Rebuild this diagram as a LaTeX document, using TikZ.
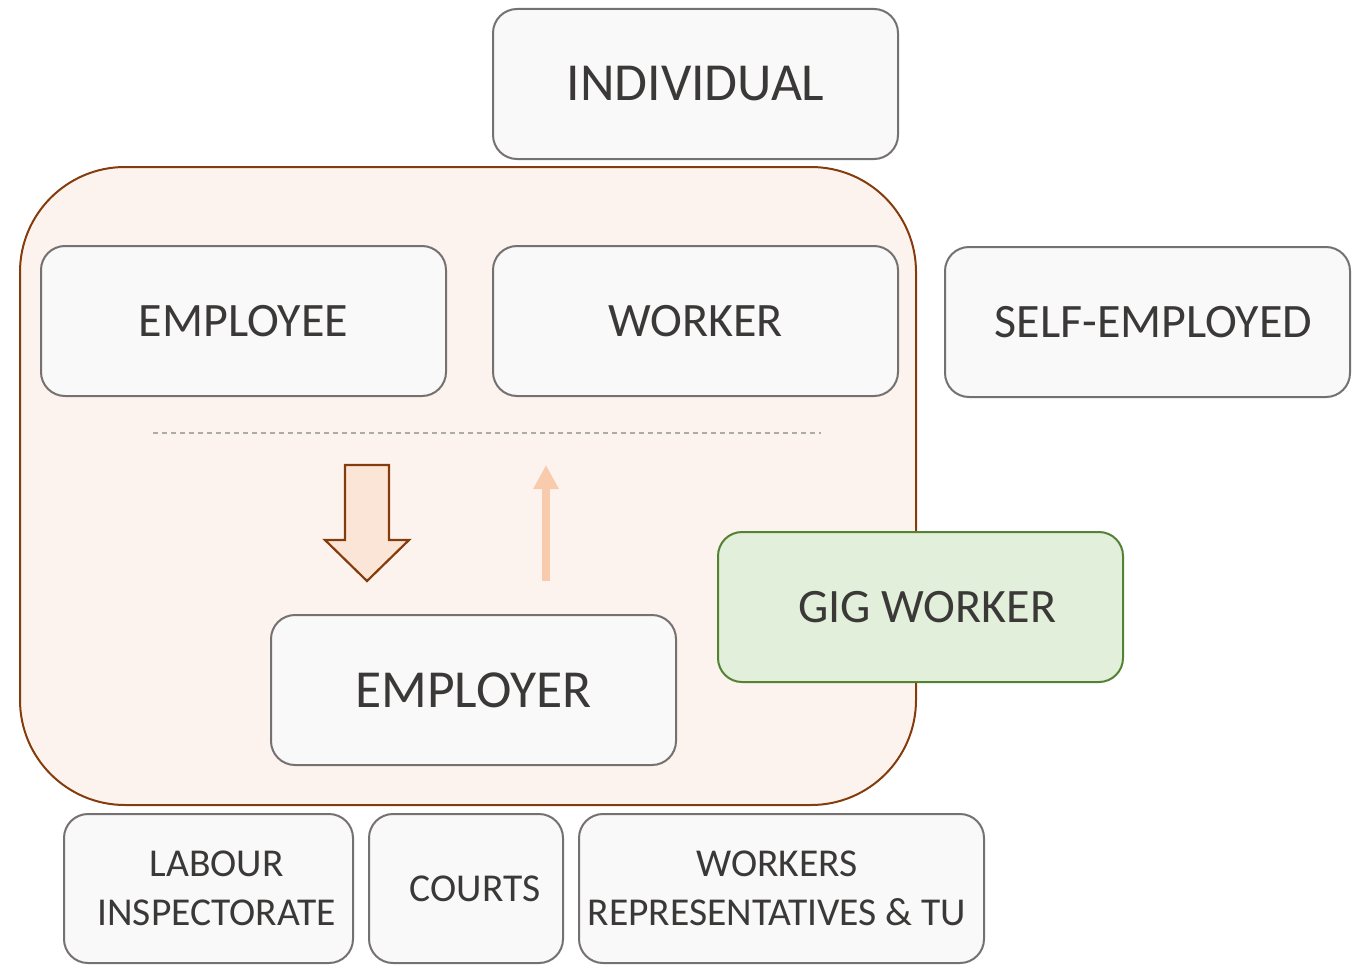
\documentclass[tikz,border=0pt]{standalone}
\usepackage{fontspec}
\setmainfont{Carlito}
\usetikzlibrary{arrows.meta}
\definecolor{boxfill}{HTML}{F9F9F9}
\definecolor{boxline}{HTML}{767171}
\definecolor{textgray}{HTML}{3B3838}
\definecolor{zonefill}{HTML}{FDF3EE}
\definecolor{zoneline}{HTML}{843C0C}
\definecolor{arrowfill}{HTML}{FBE5D6}
\definecolor{softarrow}{HTML}{F8CBAD}
\definecolor{gigfill}{HTML}{E2EFDA}
\definecolor{gigline}{HTML}{548235}
% nudge a line of text sideways inside its box
\newcommand{\nudge}[1]{\hspace*{#1}}
\begin{document}
\begin{tikzpicture}[x=1pt,y=-1pt,
  rolebox/.style={draw=boxline, fill=boxfill, line width=2pt, rounded corners=24pt,
    minimum width=405pt, minimum height=150pt, text=textgray, inner sep=0pt,
    font=\fontsize{48}{58}\selectfont},
  bigtext/.style={font=\fontsize{53.5}{64}\selectfont},
  bodybox/.style={draw=boxline, fill=boxfill, line width=2pt, rounded corners=24pt,
    minimum height=149pt, text=textgray, inner sep=0pt, align=center,
    font=\fontsize{39.5}{48.5}\selectfont}]
  \useasboundingbox (0,0) rectangle (1359,974);
  % employment relationship zone
  \draw[draw=zoneline, fill=zonefill, line width=2pt, rounded corners=105pt]
    (20,167) rectangle (916,805);
  % status boxes
  \node[rolebox, bigtext] (individual) at (695.5,84) {INDIVIDUAL};
  \node[rolebox] (employee) at (243.5,321) {EMPLOYEE};
  \node[rolebox] (worker) at (695.5,321) {WORKER};
  \node[rolebox] (selfemp) at (1147.5,322) {\nudge{12pt}SELF-EMPLOYED};
  % separator
  \coordinate (sepL) at (153,433);
  \coordinate (sepR) at (821,433);
  \draw[boxline!60, line width=1.2pt, dash pattern=on 5pt off 4pt] (sepL) -- (sepR);
  % block arrow pointing down
  \draw[draw=zoneline, fill=arrowfill, line width=2.2pt]
    (345,465) -- (389,465) -- (389,540) -- (409,540) -- (367,581)
    -- (325,540) -- (345,540) -- cycle;
  % thin arrow pointing up
  \coordinate (upS) at (546,581);
  \coordinate (upE) at (546,465);
  \draw[softarrow, line width=8pt, -{Triangle[length=24pt,width=24pt]}] (upS) -- (upE);
  \node[rolebox, bigtext] (employer) at (473.5,690) {EMPLOYER};
  \node[rolebox, draw=gigline, fill=gigfill] (gig) at (920.5,607) {\nudge{13pt}GIG WORKER};
  % enforcement bodies
  \node[bodybox, minimum width=289pt] (labour) at (208.5,888.5)
    {\nudge{16pt}LABOUR\\\nudge{16pt}INSPECTORATE};
  \node[bodybox, minimum width=194pt] (courts) at (466,888.5) {\nudge{18pt}COURTS};
  \node[bodybox, minimum width=405pt] (reps) at (781.5,888.5)
    {\nudge{-9pt}WORKERS\\\nudge{-9pt}REPRESENTATIVES \& TU};
\end{tikzpicture}
\end{document}
